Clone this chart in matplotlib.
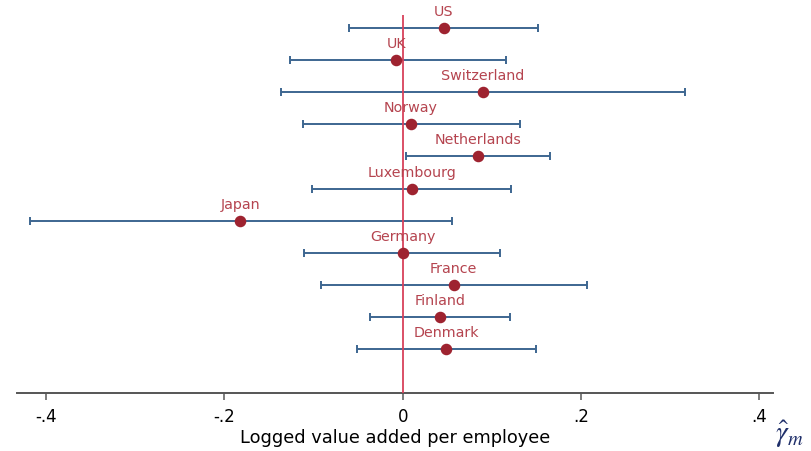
import numpy as np
import matplotlib.pyplot as plt

# country estimates (top to bottom) with confidence bounds
countries = ['US', 'UK', 'Switzerland', 'Norway', 'Netherlands', 'Luxembourg',
             'Japan', 'Germany', 'France', 'Finland', 'Denmark']
est = [0.046, -0.007, 0.090, 0.009, 0.084, 0.010, -0.182, 0.000, 0.057, 0.042, 0.049]
lo = [-0.060, -0.127, -0.137, -0.112, 0.004, -0.102, -0.418, -0.111, -0.092, -0.037, -0.051]
hi = [0.152, 0.116, 0.317, 0.132, 0.165, 0.122, 0.055, 0.109, 0.207, 0.120, 0.149]

xticks = [-0.4, -0.2, 0, 0.2, 0.4]
xticklabels = ['-.4', '-.2', '0', '.2', '.4']

est = np.array(est)
lo = np.array(lo)
hi = np.array(hi)
ypos = np.arange(len(countries))[::-1] + 1

fig = plt.figure(figsize=(8.12, 4.51), dpi=100)
ax = fig.add_axes([0.0206, 0.1293, 0.931, 0.8374])

ax.errorbar(est, ypos, xerr=[est - lo, hi - est], fmt='none',
            ecolor='#3d6690', elinewidth=1.4, capsize=3, capthick=1.4, zorder=2)
ax.axvline(0, color='#d8415a', lw=1.3, zorder=3)
ax.plot(est, ypos, 'o', color='#9e2330', ms=7.3, zorder=4)

for name, x, y in zip(countries, est, ypos):
    ax.text(x, y + 0.28, name, ha='center', va='bottom', fontsize=10.3,
            color='#b5444f', zorder=5)

ax.set_xlim(-0.433, 0.415)
ax.set_ylim(-0.373, 11.415)
ax.set_yticks([])
for s in ['top', 'right', 'left']:
    ax.spines[s].set_visible(False)
ax.spines['bottom'].set_color('#555555')
ax.spines['bottom'].set_linewidth(1.4)
ax.set_xticks(xticks)
ax.set_xticklabels(xticklabels, fontsize=12)
ax.tick_params(axis='x', direction='out', length=5, width=1.2, color='#666666', pad=6)
ax.set_xlabel('Logged value added per employee', fontsize=12.8, labelpad=2)

fig.text(0.955, 0.02, r'$\hat{\gamma}_m$', fontsize=21, color='#1f2f6a',
         math_fontfamily='stix')

fig.savefig('out.png', dpi=100)
